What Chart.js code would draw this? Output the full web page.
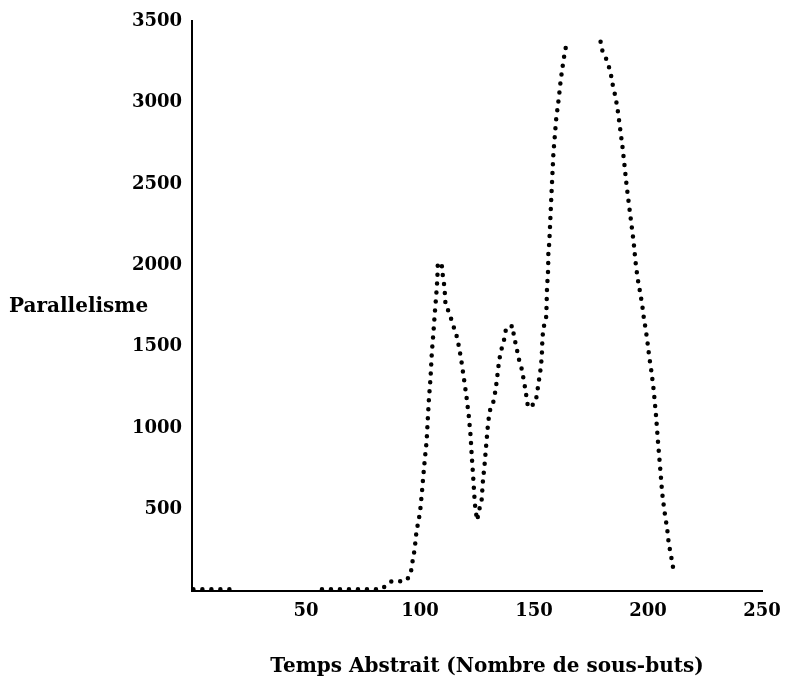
<!DOCTYPE html>
<html>
<head>
<meta charset="utf-8">
<title>Parallelisme</title>
<script src="https://cdn.jsdelivr.net/npm/chart.js@4.4.1/dist/chart.umd.min.js"></script>
<style>
  html, body { margin: 0; padding: 0; background: #fff; }
  #wrap { width: 785px; height: 684px; }
</style>
</head>
<body>
<div id="wrap"><canvas id="chart" width="785" height="684"></canvas></div>
<script>
// temps abstrait (x) et parallelisme (y) ; null = trou dans la courbe
const temps = [
  0.6, 19, 20,
  57, 83, 87.6, 93.5, 95.6, 96.3, 97, 97.7, 98, 98.4, 99.1, 100, 100.8, 101.4, 102.1, 102.9,
  103.4, 103.9, 104.6, 105.2, 105.9, 106.5, 107.1, 107.6, 107.8, 109.5, 109.8, 110.5, 110.9,
  111.2, 112.7, 114.4, 116.3, 117.3, 118.3, 119.2, 120.3, 121.4, 122.2, 122.7, 123.3, 123.9,
  124.3, 125.1, 125.8, 127, 127.6, 128.4, 129, 129.7, 130.2, 130.9, 132.4, 133.3, 133.8, 134.3,
  135.3, 136.5, 137.2, 137.8, 140.8, 141.1, 142.3, 143.3, 144.4, 145.2, 146.4, 147, 147.7,
  150.6, 151.2, 152.2, 152.9, 153.4, 153.7, 154.2, 155.3, 155.5, 155.7, 156.2, 156.3, 156.7,
  157.6, 158.5, 159.7, 160.9, 161.7, 163, 163.7, 164.3, 170,
  179.2, 179.5, 180.5, 181.7, 182.7, 183.8, 184.6, 185.8, 186.8, 187.8, 188.8, 189.7, 190.6,
  191.6, 192.6, 193.7, 194.5, 195.4, 196.4, 197.5, 197.9, 198.5, 199.6, 200.5, 201.5, 202.5,
  203.5, 204.4, 205.4, 206.2, 207.2, 208.4, 209.1, 210.2, 211, 211.5
];
const parallelisme = [
  10, 10, null,
  10, 10, 60, 60, 92, 138, 208, 256, 306, 357, 415, 481, 599, 697, 808, 918,
  1051, 1176, 1305, 1466, 1589, 1708, 1812, 1912, 2012, 2012, 1957, 1890, 1828,
  1755, 1712, 1638, 1556, 1483, 1399, 1311, 1202, 1074, 951, 828, 705, 570,
  501, 434, 491, 552, 675, 788, 890, 1004, 1067, 1123, 1170, 1252, 1305, 1370,
  1466, 1520, 1564, 1618, 1628, 1571, 1497, 1426, 1377, 1319, 1223, 1156, 1125,
  1156, 1201, 1297, 1364, 1434, 1555, 1618, 1677, 1745, 1859, 1972, 2080, 2137,
  2419, 2685, 2894, 3029, 3135, 3266, 3317, 3372, null,
  3372, 3334, 3301, 3266, 3227, 3166, 3102, 3031, 2943, 2837, 2728, 2613, 2491,
  2378, 2266, 2143, 2024, 1924, 1845, 1753, 1702, 1650, 1548, 1442, 1348, 1233,
  1080, 912, 745, 604, 491, 383, 291, 209, 143, 98
];
const xTicks = [50, 100, 150, 200, 250];
const yTicks = [500, 1000, 1500, 2000, 2500, 3000, 3500];

const points = temps.map((t, i) => ({ x: t, y: parallelisme[i] }));
const police = '"DejaVu Serif", "Liberation Serif", serif';

// titres des axes, poses a la main comme sur l'original
const axisTitles = {
  id: 'axisTitles',
  afterDraw(chart) {
    const ctx = chart.ctx;
    ctx.save();
    ctx.fillStyle = '#000';
    ctx.font = 'bold 20px ' + police;
    ctx.textBaseline = 'middle';
    ctx.textAlign = 'left';
    ctx.fillText('Parallelisme', 9, 307);
    ctx.textAlign = 'center';
    ctx.fillText('Temps Abstrait (Nombre de sous-buts)', 487, 667);
    ctx.restore();
  }
};

const config = {
  type: 'scatter',
  data: {
    datasets: [{
      data: points,
      showLine: true,
      spanGaps: false,
      borderColor: '#000',
      borderWidth: 4.5,
      borderDash: [0, 9],
      borderCapStyle: 'round',
      pointRadius: 0,
      tension: 0
    }]
  },
  options: {
    responsive: false,
    animation: false,
    devicePixelRatio: 1,
    layout: { padding: { top: 21, right: 23, left: 0, bottom: 0 } },
    plugins: {
      legend: { display: false },
      tooltip: { enabled: false }
    },
    scales: {
      x: {
        type: 'linear',
        min: 0,
        max: 250,
        afterBuildTicks: (scale) => { scale.ticks = xTicks.map(v => ({ value: v })); },
        afterFit: (scale) => {
          scale.height = 93;
          scale.paddingLeft = 0;
          scale.paddingRight = 0;
        },
        grid: { display: false, drawTicks: false },
        border: { display: true, color: '#000', width: 2 },
        ticks: {
          padding: 10,
          color: '#000',
          callback: (v) => String(v),
          font: { family: police, size: 18, weight: 'bold' }
        }
      },
      y: {
        type: 'linear',
        min: 0,
        max: 3500,
        afterBuildTicks: (scale) => { scale.ticks = yTicks.map(v => ({ value: v })); },
        afterFit: (scale) => {
          scale.width = 192;
          scale.paddingTop = 0;
          scale.paddingBottom = 0;
        },
        grid: { display: false, drawTicks: false },
        border: { display: true, color: '#000', width: 2 },
        ticks: {
          padding: 10,
          color: '#000',
          callback: (v) => String(v),
          font: { family: police, size: 18, weight: 'bold' }
        }
      }
    }
  },
  plugins: [axisTitles]
};

const canvas = document.getElementById('chart');
const graph = new Chart(canvas, config);
</script>
</body>
</html>
